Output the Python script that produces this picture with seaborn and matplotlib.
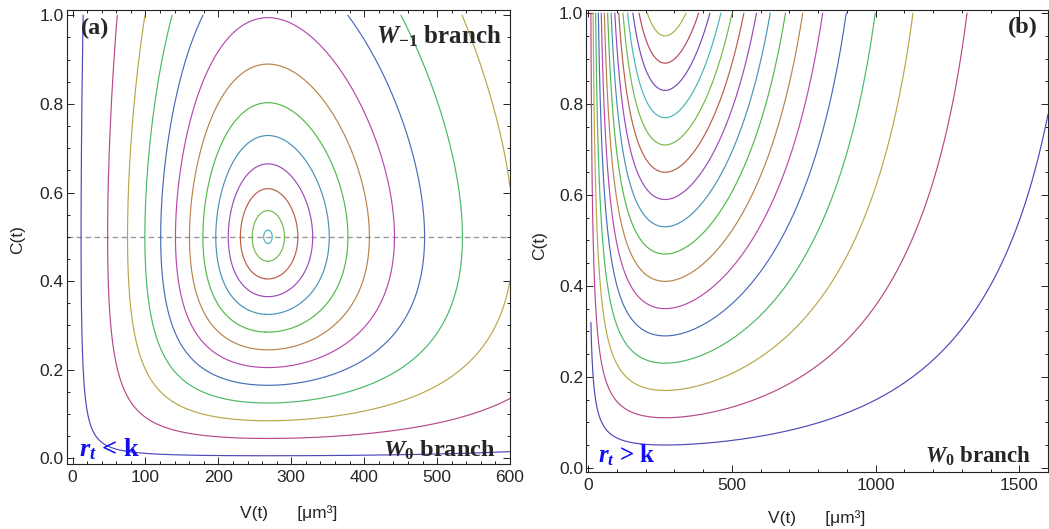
import numpy as np
import matplotlib
matplotlib.use("Agg")
import matplotlib.pyplot as plt
from matplotlib.ticker import MultipleLocator, FixedLocator
import seaborn as sns
import contourpy

# ---------------- data ----------------
# C value where each trajectory crosses V = V*  (one curve per entry)
c_levels_a = [0.006, 0.045, 0.085, 0.125, 0.165, 0.205, 0.245,
              0.285, 0.325, 0.365, 0.405, 0.445, 0.485]
c_levels_b = [0.05, 0.11, 0.17, 0.23, 0.29, 0.35, 0.41, 0.47,
              0.53, 0.59, 0.65, 0.71, 0.77, 0.83, 0.89, 0.95]
curve_colors = ["#4C49B8", "#B84988", "#B8A749", "#49B867", "#496CB8",
                "#B849AC", "#B88349", "#51B849", "#4991B8", "#9E49B8",
                "#B85E49", "#75B849", "#49B6B8", "#7949B8", "#B8495A",
                "#9AB849"]
xticks_a = [0, 100, 200, 300, 400, 500, 600]
xticks_b = [0, 500, 1000, 1500]
yticks = [0.0, 0.2, 0.4, 0.6, 0.8, 1.0]

# model constants of the first integral H(V, C) = h(C) + F(V)
v_star = 268.0
c_star_a, alpha_a, q_a = 0.5, 4.154e-4, 4.0 / 3.0
c_star_b, alpha_b, q_b = 1.773, 0.00485, 1.0
clip_first_b = 0.32   # left branch of the lowest curve of panel (b) stops here


def h_of_c(c, c_star):
    return c - c_star * np.log(c)


def f_of_v(v, alpha, q):
    vs = v_star ** q
    return alpha * ((v ** q - vs) / q - vs * np.log(v / v_star))


# ---------------- style ----------------
sns.set_theme(style="ticks")
plt.rcParams["font.family"] = ["Liberation Sans", "DejaVu Sans"]
plt.rcParams["mathtext.fontset"] = "custom"
plt.rcParams["mathtext.it"] = "Liberation Serif:italic:bold"
plt.rcParams["mathtext.rm"] = "Liberation Serif:bold"
plt.rcParams["mathtext.bf"] = "Liberation Serif:bold"

W, H = 1049, 529
fig = plt.figure(figsize=(W / 100, H / 100), dpi=100)


def px_axes(left, right, top, bottom):
    return fig.add_axes([left / W, 1 - bottom / H, (right - left) / W, (bottom - top) / H])


ax_a = px_axes(66.7, 510, 10, 464.4)
ax_b = px_axes(586, 1048, 9.5, 472.3)

C = np.concatenate([np.geomspace(1e-4, 0.06, 500), np.linspace(0.06, 1.0, 1500)[1:]])


def draw_curves(ax, vgrid, c_star, alpha, q, c_levels, clip_first=None):
    VV, CC = np.meshgrid(vgrid, C)
    HH = h_of_c(CC, c_star) + f_of_v(VV, alpha, q)
    gen = contourpy.contour_generator(vgrid, C, HH)
    for i, cl in enumerate(c_levels):
        level = h_of_c(cl, c_star)
        if i == 0 and clip_first is not None:
            masked = np.ma.masked_where((CC > clip_first) & (VV < v_star), HH)
            segs = contourpy.contour_generator(vgrid, C, masked).lines(level)
        else:
            segs = gen.lines(level)
        for seg in segs:
            if len(seg) < 2:
                continue
            sns.lineplot(x=seg[:, 0], y=seg[:, 1], sort=False, estimator=None,
                         color=curve_colors[i % len(curve_colors)], lw=0.85, ax=ax)


Va = np.concatenate([np.geomspace(0.3, 40, 500), np.linspace(40, 600, 1500)[1:]])
Vb = np.concatenate([np.geomspace(0.3, 60, 500), np.linspace(60, 1600, 2200)[1:]])

draw_curves(ax_a, Va, c_star_a, alpha_a, q_a, c_levels_a)
draw_curves(ax_b, Vb, c_star_b, alpha_b, q_b, c_levels_b, clip_first=clip_first_b)

ax_a.axhline(c_star_a, color="#9a9a9a", lw=1.0, ls=(0, (4, 2.5)), zorder=0.5)

# ---------------- axes ----------------
ax_a.set_xlim(-8, 600)
ax_a.set_ylim(-0.0135, 1.012)
ax_b.set_xlim(-7, 1600)
ax_b.set_ylim(-0.010, 1.008)

ax_a.xaxis.set_major_locator(FixedLocator(xticks_a))
ax_a.xaxis.set_minor_locator(MultipleLocator(20))
ax_b.xaxis.set_major_locator(FixedLocator(xticks_b))
ax_b.xaxis.set_minor_locator(MultipleLocator(100))

for ax in (ax_a, ax_b):
    ax.yaxis.set_major_locator(FixedLocator(yticks))
    ax.yaxis.set_minor_locator(MultipleLocator(0.05))
    ax.set_yticklabels([f"{t:.1f}" for t in yticks])
    ax.tick_params(which="both", direction="in", top=True, right=True,
                   color="#222222", width=0.7)
    ax.tick_params(which="major", length=5)
    ax.tick_params(which="minor", length=2.5)
    ax.tick_params(axis="y", labelsize=12.5, pad=2)
    ax.tick_params(axis="x", labelsize=12.5, pad=4)
    for sp in ax.spines.values():
        sp.set_visible(True)
        sp.set_linewidth(0.8)
        sp.set_color("#222222")
    ax.set_ylabel("C(t)", fontsize=12.5)
    ax.set_xlabel("V(t)      [μm³]", fontsize=12.5)
    ax.xaxis.label.set_va("center")
    ax.yaxis.label.set_va("center")

ax_a.yaxis.set_label_coords(-0.110, 0.494)
ax_b.yaxis.set_label_coords(-0.0996, 0.491)
ax_a.xaxis.set_label_coords(0.5, -0.106)
ax_b.xaxis.set_label_coords(0.5, -0.0987)

# ---------------- annotations ----------------
serif = dict(family=["Liberation Serif", "DejaVu Serif"], weight="bold", math_fontfamily="custom")
ax_a.text(0.0638, 0.9604, "(a)", transform=ax_a.transAxes, ha="center", va="center",
          fontsize=17.5, **serif)
ax_a.text(0.982, 0.9274, r"$W_{-1}$ branch", transform=ax_a.transAxes, ha="right",
          va="baseline", fontsize=18, **serif)
ax_a.text(0.9662, 0.0174, r"$W_0$ branch", transform=ax_a.transAxes, ha="right",
          va="baseline", fontsize=17.5, **serif)
ax_a.text(0.0277, 0.017, r"$r_t$ < k", transform=ax_a.transAxes, ha="left",
          va="baseline", fontsize=19, color="#1010F0", **serif)

ax_b.text(0.9448, 0.9622, "(b)", transform=ax_b.transAxes, ha="center", va="center",
          fontsize=17.5, **serif)
ax_b.text(0.9647, 0.0207, r"$W_0$ branch", transform=ax_b.transAxes, ha="right",
          va="baseline", fontsize=16.5, **serif)
ax_b.text(0.0266, 0.0207, r"$r_t$ > k", transform=ax_b.transAxes, ha="left",
          va="baseline", fontsize=18, color="#1010F0", **serif)

fig.savefig("out.png", dpi=100)
